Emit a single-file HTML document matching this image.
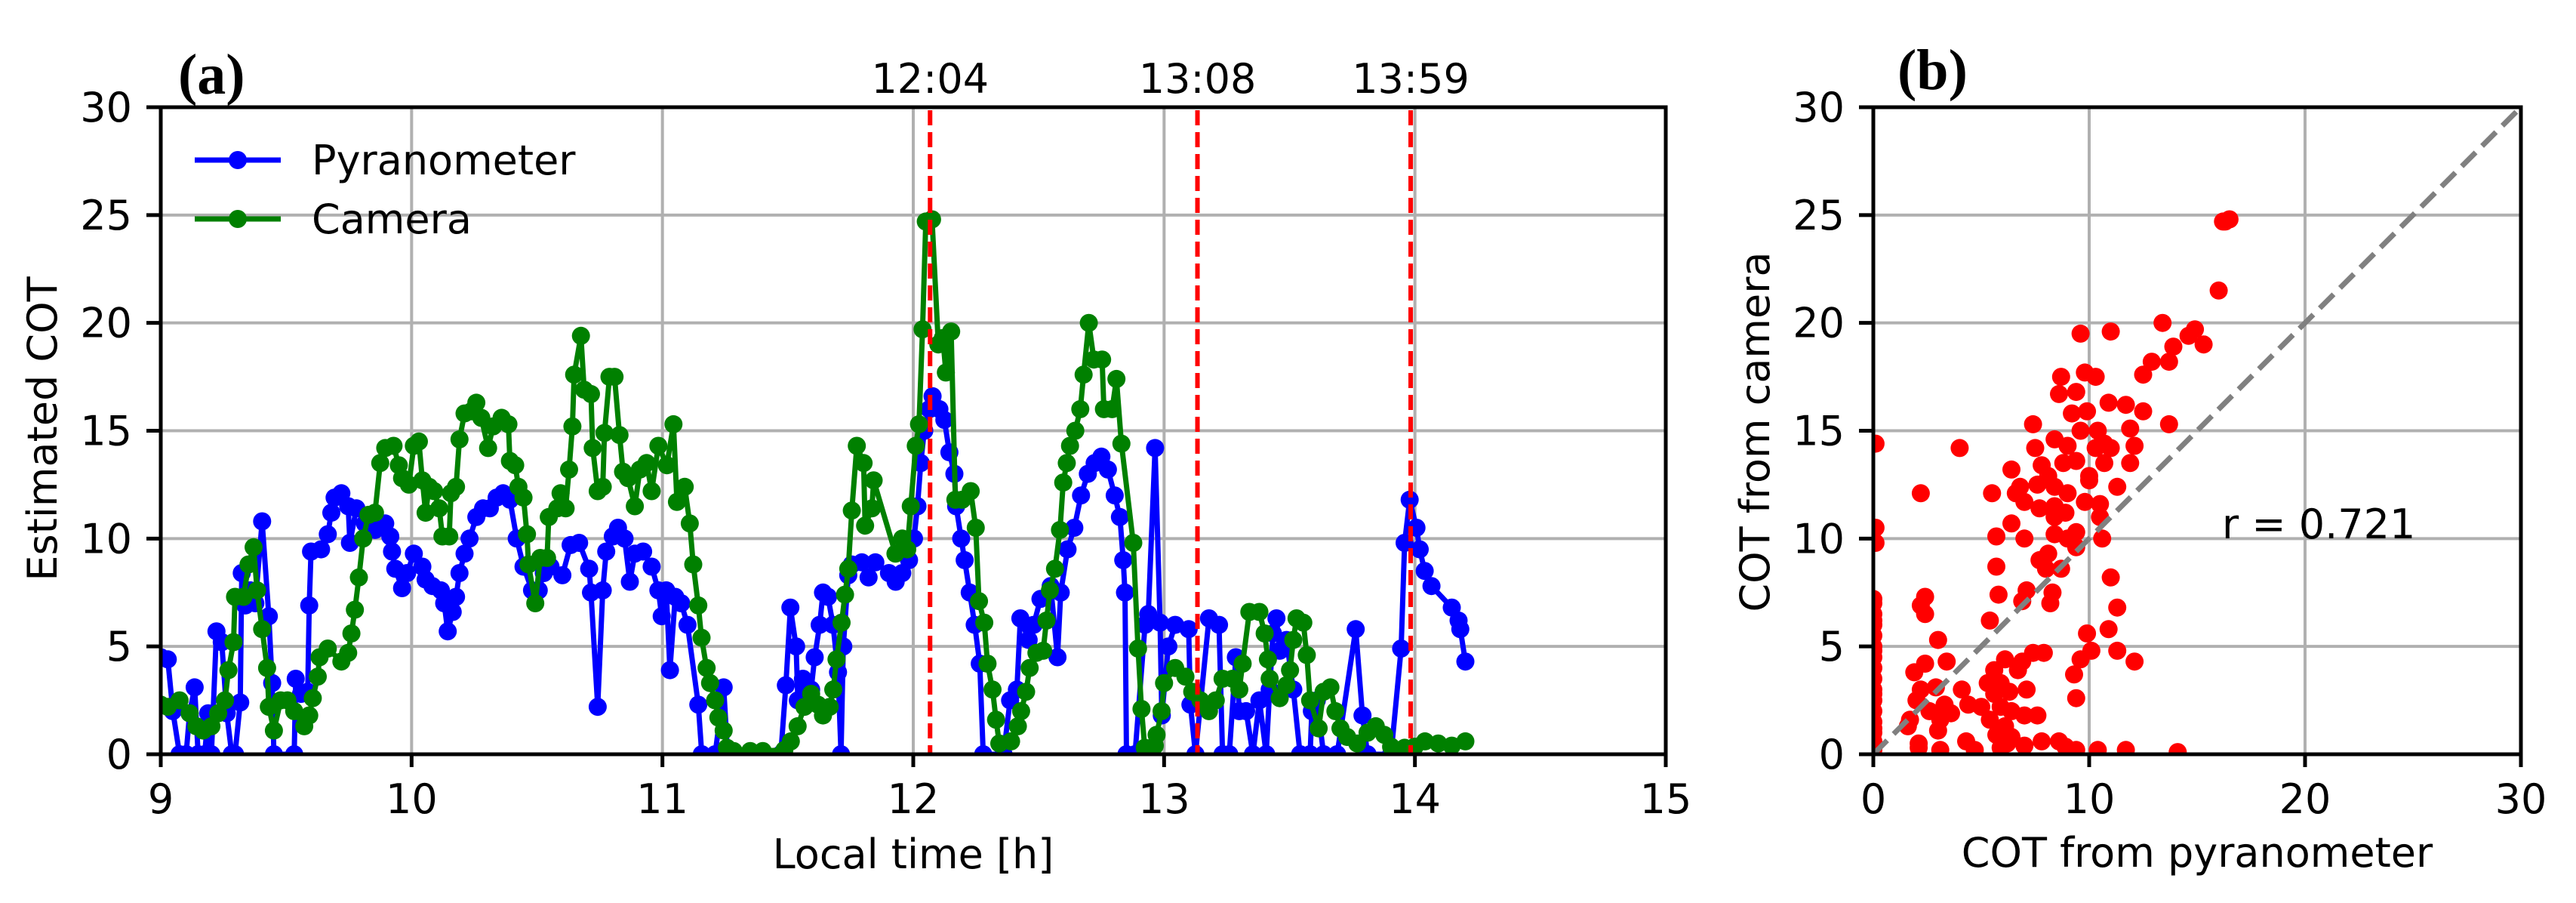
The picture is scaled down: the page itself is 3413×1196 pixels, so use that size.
<!DOCTYPE html>
<html><head><meta charset="utf-8"><style>
html,body{margin:0;padding:0;background:#fff;}
svg{display:block;}
text{font-family:"DejaVu Sans","Liberation Sans",sans-serif;fill:#000;}
</style></head><body>
<svg id="fig" width="3413" height="1196" viewBox="0 0 3413 1196" xmlns="http://www.w3.org/2000/svg">
<defs>
<clipPath id="clipA"><rect x="213" y="142" width="1994" height="857"/></clipPath>
<clipPath id="clipB"><rect x="2482" y="142" width="858" height="857"/></clipPath>
</defs>
<g id="gridA"></g>
<g id="gridB"></g>
<g id="seriesA" clip-path="url(#clipA)"></g>
<g id="seriesB" clip-path="url(#clipB)"></g>
<g id="axesA"></g>
<g id="axesB"></g>
<text x="236" y="124" font-weight="bold" font-size="76" style="font-family:'Liberation Serif',serif">(a)</text>
<text x="2514" y="118" font-weight="bold" font-size="76" style="font-family:'Liberation Serif',serif">(b)</text>
<text x="1210" y="1150" font-size="54" text-anchor="middle">Local time [h]</text>
<text x="75" y="568" font-size="54" text-anchor="middle" transform="rotate(-90 75 568)">Estimated COT</text>
<text x="2911" y="1148" font-size="54" text-anchor="middle">COT from pyranometer</text>
<text x="2344" y="572" font-size="54" text-anchor="middle" transform="rotate(-90 2344 572)">COT from camera</text>
<text x="2944" y="713" font-size="54">r = 0.721</text>
<g>
<line x1="258" y1="212" x2="372" y2="212" stroke="#0000ff" stroke-width="7"/>
<circle cx="315" cy="212" r="12" fill="#0000ff"/>
<text x="413" y="231" font-size="54">Pyranometer</text>
<line x1="258" y1="290" x2="372" y2="290" stroke="#008000" stroke-width="7"/>
<circle cx="315" cy="290" r="12" fill="#008000"/>
<text x="413" y="309" font-size="54">Camera</text>
</g>
</svg>
<script>
const pyrT=[9.0,9.028,9.048,9.075,9.101,9.115,9.135,9.149,9.175,9.189,9.202,9.222,9.243,9.263,9.283,9.296,9.317,9.323,9.337,9.357,9.377,9.404,9.431,9.444,9.451,9.532,9.538,9.559,9.586,9.592,9.599,9.639,9.666,9.680,9.693,9.720,9.747,9.754,9.780,9.814,9.854,9.895,9.915,9.922,9.935,9.962,9.982,10.009,10.043,10.056,10.083,10.117,10.130,10.144,10.164,10.177,10.191,10.211,10.231,10.258,10.285,10.312,10.339,10.365,10.392,10.419,10.446,10.480,10.507,10.527,10.554,10.601,10.634,10.668,10.708,10.715,10.742,10.762,10.776,10.802,10.823,10.849,10.870,10.890,10.923,10.957,10.984,10.997,11.015,11.030,11.051,11.075,11.100,11.143,11.157,11.21,11.244,11.26,11.35,11.472,11.492,11.51,11.533,11.54,11.56,11.593,11.607,11.627,11.64,11.66,11.68,11.70,11.712,11.721,11.741,11.755,11.795,11.822,11.849,11.903,11.93,11.956,11.983,12.003,12.017,12.03,12.044,12.064,12.077,12.104,12.124,12.144,12.164,12.171,12.191,12.205,12.225,12.245,12.265,12.279,12.36,12.386,12.413,12.427,12.46,12.48,12.507,12.548,12.575,12.588,12.615,12.642,12.669,12.696,12.723,12.75,12.776,12.803,12.824,12.837,12.844,12.85,12.884,12.924,12.937,12.964,12.984,12.991,13.017,13.044,13.098,13.105,13.125,13.179,13.219,13.233,13.26,13.286,13.3,13.327,13.354,13.38,13.407,13.421,13.434,13.448,13.461,13.488,13.515,13.542,13.582,13.589,13.609,13.636,13.69,13.764,13.791,13.811,13.905,13.945,13.959,13.979,14.006,14.019,14.039,14.066,14.147,14.174,14.181,14.201];
const pyrV=[4.5,4.4,2.0,0,0,1.9,3.1,0,0,1.9,0,5.7,5.2,1.9,0,0,2.4,8.4,6.9,7.6,7.0,10.8,6.4,3.3,0,0,3.5,2.8,2.9,6.9,9.4,9.5,10.2,11.2,11.9,12.1,11.5,9.8,11.4,10.7,10.4,10.7,10.1,9.4,8.6,7.7,8.4,9.3,8.7,8.1,7.8,7.6,7.0,5.7,6.6,7.3,8.4,9.3,10.0,11.0,11.4,11.4,11.9,12.1,11.8,10.0,8.7,7.6,7.6,8.4,8.7,8.3,9.7,9.8,8.6,7.5,2.2,7.6,9.4,10.1,10.5,10.0,8.0,9.3,9.4,8.7,7.6,6.4,7.6,3.9,7.3,7.0,6.0,2.3,0,0,3.1,0,0,0,3.2,6.8,5.0,2.5,3.5,3.0,4.5,6.0,7.5,7.3,6.0,3.8,0,5.0,8.3,8.8,8.9,8.2,8.9,8.4,8.0,8.4,9.0,10.0,11.5,13.5,15.0,16.0,16.6,16.0,15.5,14.0,13.0,11.5,10.0,9.0,7.5,6.0,4.2,0,0,2.5,3.0,6.3,5.3,6.0,7.2,7.8,4.5,7.5,9.5,10.5,12.0,13.0,13.5,13.8,13.2,12.0,11.0,9.0,7.5,0,0,6.0,6.5,14.2,6.1,1.8,5.0,6.0,5.8,2.3,0,6.3,6.0,0,0,4.5,2.0,2.0,0,2.5,0,3.0,5.6,6.3,4.8,5.3,3.0,0,0,2.0,2.5,0,0,5.8,1.8,0,0,4.9,9.8,11.8,10.5,9.5,8.5,7.8,6.8,6.2,5.8,4.3];
const camT=[9.0,9.028,9.075,9.115,9.142,9.169,9.202,9.229,9.256,9.270,9.290,9.296,9.330,9.350,9.370,9.384,9.404,9.424,9.431,9.451,9.478,9.505,9.532,9.572,9.592,9.606,9.626,9.633,9.666,9.720,9.747,9.760,9.774,9.790,9.807,9.828,9.854,9.875,9.895,9.928,9.949,9.962,9.989,10.009,10.029,10.043,10.056,10.070,10.090,10.110,10.123,10.150,10.157,10.177,10.191,10.211,10.238,10.258,10.278,10.305,10.325,10.359,10.386,10.392,10.413,10.426,10.446,10.460,10.466,10.493,10.513,10.540,10.547,10.581,10.594,10.614,10.628,10.641,10.648,10.675,10.688,10.715,10.722,10.742,10.762,10.769,10.789,10.809,10.829,10.843,10.863,10.890,10.910,10.937,10.957,10.984,11.018,11.044,11.058,11.089,11.109,11.123,11.143,11.156,11.176,11.19,11.21,11.223,11.244,11.257,11.284,11.35,11.40,11.486,11.512,11.539,11.566,11.593,11.62,11.64,11.667,11.681,11.694,11.714,11.728,11.741,11.755,11.775,11.802,11.808,11.835,11.842,11.929,11.956,11.976,11.99,12.01,12.023,12.037,12.05,12.075,12.10,12.118,12.13,12.151,12.168,12.195,12.229,12.249,12.262,12.283,12.296,12.316,12.33,12.343,12.39,12.417,12.43,12.45,12.464,12.491,12.518,12.531,12.545,12.565,12.585,12.598,12.612,12.625,12.646,12.666,12.679,12.70,12.72,12.753,12.76,12.793,12.81,12.83,12.877,12.896,12.910,12.923,12.963,12.97,12.99,13.0,13.044,13.085,13.112,13.145,13.179,13.206,13.233,13.273,13.3,13.313,13.340,13.380,13.401,13.414,13.421,13.461,13.488,13.502,13.515,13.528,13.555,13.569,13.582,13.616,13.636,13.663,13.683,13.703,13.73,13.77,13.811,13.844,13.878,13.905,13.959,13.999,14.04,14.093,14.147,14.201];
const camV=[2.3,2.2,2.5,1.9,1.3,1.1,1.3,1.9,2.5,3.9,5.2,7.3,7.3,8.8,9.6,7.6,5.8,4.0,2.2,1.1,2.5,2.5,2.0,1.3,1.8,2.6,3.6,4.5,4.9,4.3,4.7,5.6,6.7,8.2,10.0,11.1,11.2,13.5,14.2,14.3,13.4,12.8,12.5,14.3,14.5,12.7,11.2,12.4,12.2,11.4,10.1,10.1,12.1,12.4,14.6,15.8,15.9,16.3,15.6,14.2,15.2,15.6,15.3,13.6,13.4,12.4,11.9,10.2,8.8,7.0,9.1,9.1,11.0,11.4,12.1,11.4,13.2,15.2,17.6,19.4,16.9,16.7,14.2,12.2,12.4,14.9,17.5,17.5,14.8,13.1,12.8,11.5,13.2,13.5,12.2,14.3,13.4,15.3,11.7,12.4,10.7,8.8,6.9,5.4,4.0,3.3,2.5,1.7,1.1,0.3,0.15,0.15,0.15,0.2,0.6,1.3,2.2,2.8,2.3,1.8,2.2,3.0,4.4,6.1,7.4,8.6,11.3,14.3,13.5,10.6,11.4,12.7,9.3,10.0,9.5,11.5,14.3,15.3,19.7,24.7,24.8,19.0,19.3,17.7,19.6,11.8,11.8,12.2,10.5,7.1,6.1,4.2,3.0,1.6,0.5,0.6,1.3,2.0,2.9,4.0,4.7,4.8,6.2,7.6,8.6,10.4,12.6,13.5,14.3,15.0,16.0,17.6,20.0,18.3,18.3,16.0,16.0,17.4,14.4,9.8,4.9,2.1,0.3,0.4,0.9,2.0,3.3,4.0,3.6,2.9,2.5,2.0,2.5,3.5,3.5,3.0,4.2,6.6,6.6,5.6,4.4,3.5,2.6,3.2,3.9,5.3,6.3,6.1,4.6,2.5,1.2,2.9,3.1,2.0,1.2,0.8,0.5,1.0,1.3,0.9,0.35,0.3,0.35,0.6,0.5,0.4,0.6];
const eventTimes=[12.067,13.133,13.983];
const eventLabels=["12:04","13:08","13:59"];
const xTicksA=[9,10,11,12,13,14,15];
const yTicks=[0,5,10,15,20,25,30];
const xTicksB=[0,10,20,30];
const scatX=[16.2,16.5,16.3,16.0,13.4,9.6,11.0,14.9,14.6,15.3,13.9,12.9,13.7,12.5,8.7,9.8,10.3,8.6,9.4,10.9,11.7,12.5,9.2,9.9,7.4,13.7,9.6,10.4,11.9,8.4,9.0,7.5,4.0,0.1,10.7,12.1,10.3,11.0,8.8,9.4,7.8,10.7,11.9,6.4,8.1,10.0,6.8,7.6,8.4,10.0,11.3,2.2,5.5,6.6,9.0,7.0,7.7,8.4,9.8,10.5,8.9,8.4,10.5,6.4,0.1,5.7,7.0,8.4,9.4,9.0,0.1,10.6,9.4,8.1,7.7,8.0,8.7,5.7,11.0,7.1,8.3,5.8,6.9,8.2,2.4,2.2,2.4,11.3,5.4,9.9,10.9,3.0,10.1,11.3,12.1,7.4,7.9,6.1,6.9,3.4,2.4,1.9,9.6,9.3,5.6,6.7,5.3,5.9,4.1,7.1,2.2,2.9,6.3,5.6,9.4,2.0,3.3,4.4,5.0,5.9,6.4,2.6,3.6,1.7,3.1,5.4,7.0,7.6,6.1,1.6,3.0,5.7,6.4,4.3,7.8,8.6,2.1,6.2,7.0,2.1,3.1,4.7,5.9,9.4,10.4,11.7,14.1,8.9,0,0,0,0,0,0,0,0,0,0,0,0,0,0,0,0,0,0,0,0];
const scatY=[24.7,24.8,24.7,21.5,20.0,19.5,19.6,19.7,19.4,19.0,18.9,18.2,18.2,17.6,17.5,17.7,17.5,16.7,16.8,16.3,16.2,15.9,15.8,15.9,15.3,15.3,15.0,15.0,15.1,14.6,14.3,14.2,14.2,14.4,14.4,14.3,14.2,14.2,13.5,13.6,13.4,13.5,13.5,13.2,12.9,12.9,12.4,12.5,12.4,12.7,12.4,12.1,12.1,12.1,12.1,11.7,11.4,11.5,11.7,11.6,11.2,11.0,11.0,10.7,10.5,10.1,10.0,10.2,10.3,10.0,9.8,10.0,9.6,9.3,9.0,8.6,8.6,8.7,8.2,7.6,7.5,7.4,7.1,7.0,7.3,6.9,6.5,6.8,6.2,5.6,5.8,5.3,4.8,4.8,4.3,4.7,4.7,4.4,4.3,4.3,4.2,3.8,4.4,3.7,3.9,3.9,3.3,3.3,3.0,3.0,3.0,3.1,2.9,2.8,2.6,2.5,2.3,2.3,2.2,2.2,2.0,2.0,1.9,1.6,1.6,1.6,1.8,1.8,1.3,1.3,1.1,0.9,0.8,0.6,0.6,0.6,0.5,0.5,0.4,0.3,0.2,0.2,0.3,0.2,0.2,0.2,0.1,0.35,0.2,0.6,1.0,1.5,2.0,2.5,3.0,3.5,4.0,4.5,5.0,5.5,6.0,6.5,7.0,7.2,1.2,2.8,4.8,6.2];

const NS="http://www.w3.org/2000/svg";
function mk(tag,attrs,parent){const e=document.createElementNS(NS,tag);for(const k in attrs)e.setAttribute(k,attrs[k]);parent.appendChild(e);return e;}
const AX0=213,AX1=2207,AY0=999,AY1=142;
const xA=t=>AX0+(t-9)/6*(AX1-AX0);
const yA=v=>AY0-v/30*(AY0-AY1);
const BX0=2482,BX1=3340;
const xB=v=>BX0+v/30*(BX1-BX0);
const yB=v=>AY0-v/30*(AY0-AY1);
const gA=document.getElementById('gridA'),gB=document.getElementById('gridB');
const sA=document.getElementById('seriesA'),sB=document.getElementById('seriesB');
const aA=document.getElementById('axesA'),aB=document.getElementById('axesB');
const GRID="#b0b0b0";
xTicksA.forEach(t=>{
  const l=mk('line',{x1:xA(t),x2:xA(t),y1:AY1,y2:AY0,stroke:GRID,'stroke-width':4},gA);
  
  
  mk('line',{x1:xA(t),x2:xA(t),y1:AY0,y2:AY0+17,stroke:'#000','stroke-width':5},aA);
  const tx=mk('text',{x:xA(t),y:1077,'font-size':54,'text-anchor':'middle'},aA);
  tx.textContent=t;
  
  
});
yTicks.forEach(v=>{
  const l=mk('line',{x1:AX0,x2:AX1,y1:yA(v),y2:yA(v),stroke:GRID,'stroke-width':4},gA);
  
  
  mk('line',{x1:AX0-19,x2:AX0,y1:yA(v),y2:yA(v),stroke:'#000','stroke-width':5},aA);
  const tx=mk('text',{x:175,y:yA(v)+19,'font-size':54,'text-anchor':'end'},aA);
  tx.textContent=v;
  
  
  const l2=mk('line',{x1:BX0,x2:BX1,y1:yB(v),y2:yB(v),stroke:GRID,'stroke-width':4},gB);
  
  
  mk('line',{x1:BX0-19,x2:BX0,y1:yB(v),y2:yB(v),stroke:'#000','stroke-width':5},aB);
  const tb=mk('text',{x:2444,y:yB(v)+19,'font-size':54,'text-anchor':'end'},aB);
  tb.textContent=v;
  
  
});
xTicksB.forEach(v=>{
  const l=mk('line',{x1:xB(v),x2:xB(v),y1:AY1,y2:AY0,stroke:GRID,'stroke-width':4},gB);
  
  
  mk('line',{x1:xB(v),x2:xB(v),y1:AY0,y2:AY0+17,stroke:'#000','stroke-width':5},aB);
  const tx=mk('text',{x:xB(v),y:1077,'font-size':54,'text-anchor':'middle'},aB);
  tx.textContent=v;
  
  
});
mk('rect',{x:AX0,y:AY1,width:AX1-AX0,height:AY0-AY1,fill:'none',stroke:'#000','stroke-width':5},aA);
mk('rect',{x:BX0,y:AY1,width:BX1-BX0,height:AY0-AY1,fill:'none',stroke:'#000','stroke-width':5},aB);

function series(T,V,color,name){
  const g=mk('g',{},sA);
  
  
  const pts=T.map((t,i)=>xA(t).toFixed(1)+','+yA(V[i]).toFixed(1)).join(' ');
  mk('polyline',{points:pts,fill:'none',stroke:color,'stroke-width':7,'stroke-linejoin':'round'},g);
  T.forEach((t,i)=>{
    const c=mk('circle',{cx:xA(t).toFixed(1),cy:yA(V[i]).toFixed(1),r:12,fill:color},g);
    
    
  });
}
series(pyrT,pyrV,'#0000ff','pyranometer-series');
series(camT,camV,'#008000','camera-series');
eventTimes.forEach((t,i)=>{
  const l=mk('line',{x1:xA(t),x2:xA(t),y1:AY1+4,y2:AY0,stroke:'#ff0000','stroke-width':6,'stroke-dasharray':'20 9'},sA);
  
  
  const tx=mk('text',{x:xA(t),y:123,'font-size':54,'text-anchor':'middle'},aA);
  tx.textContent=eventLabels[i];
  
  
});
scatX.forEach((x,i)=>{
  const c=mk('circle',{cx:xB(x).toFixed(1),cy:yB(scatY[i]).toFixed(1),r:12,fill:'#ff0000'},sB);
  
  
});
const vb=mk('line',{x1:xB(0)+3,x2:xB(0)+3,y1:yB(0),y2:yB(7.2),stroke:'#ff0000','stroke-width':10},sB);


const d=mk('line',{x1:xB(0),y1:yB(0),x2:xB(30),y2:yB(30),stroke:'#808080','stroke-width':7,'stroke-dasharray':'26 12'},sB);


</script>
</body></html>
